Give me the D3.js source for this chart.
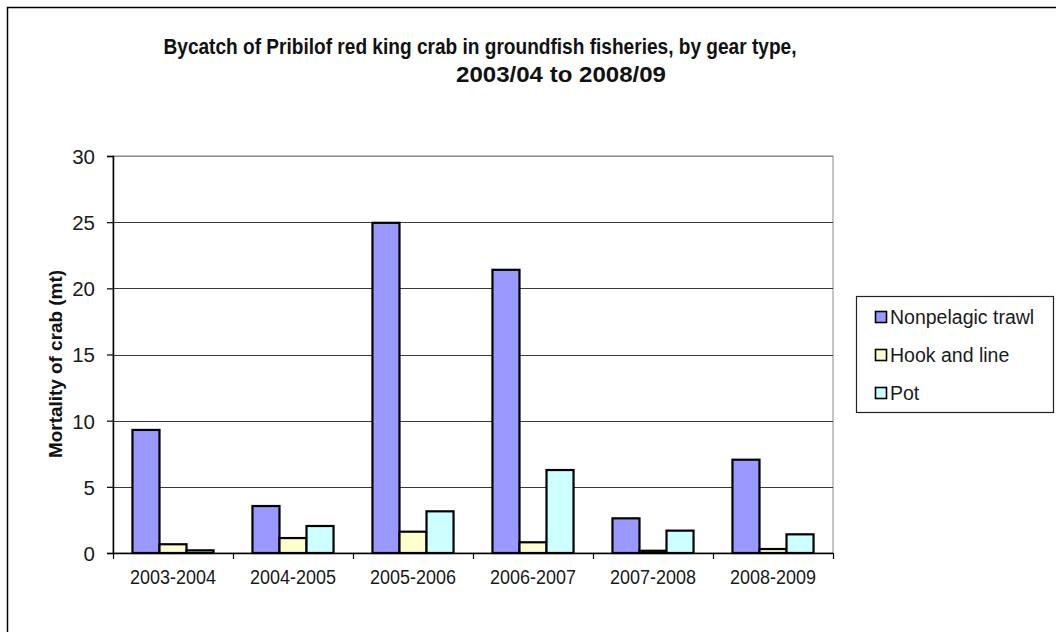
<!DOCTYPE html>
<html>
<head>
<meta charset="utf-8">
<script src="https://cdn.jsdelivr.net/npm/d3@7"></script>
<style>
  html, body { margin: 0; padding: 0; background: #fff; }
  svg { display: block; font-family: "Liberation Sans", Arial, sans-serif; }
</style>
</head>
<body>
<svg id="chart" width="1056" height="632"></svg>
<script>
const categories = ["2003-2004", "2004-2005", "2005-2006", "2006-2007", "2007-2008", "2008-2009"];
const seriesNames = ["Nonpelagic trawl", "Hook and line", "Pot"];
const trawl = [9.3, 3.55, 24.95, 21.4, 2.62, 7.05];
const hookLine = [0.66, 1.13, 1.61, 0.81, 0.17, 0.3];
const pot = [0.2, 2.04, 3.15, 6.27, 1.69, 1.41];
const yTicks = [0, 5, 10, 15, 20, 25, 30];
const colors = ["#9999FF", "#FFFFCC", "#CCFFFF"];
const titleLines = ["Bycatch of Pribilof red king crab in groundfish fisheries, by gear type,", "2003/04 to 2008/09"];
const yLabel = "Mortality of crab (mt)";

const seriesValues = [trawl, hookLine, pot];
const svg = d3.select("#chart");

// outer chart border
svg.append("rect").attr("x", 7.5).attr("y", 7.5).attr("width", 1100).attr("height", 700)
  .attr("fill", "#fff").attr("stroke", "#000").attr("stroke-width", 1.5);

const pLeft = 113, pRight = 833, pTop = 156, pBottom = 553;
const x = d3.scaleBand().domain(categories).range([pLeft, pRight]).padding(0);
const xi = d3.scaleBand().domain(seriesNames).range([0, x.bandwidth()]).paddingInner(0).paddingOuter(0.72);
const y = d3.scaleLinear().domain([0, 30]).range([pBottom, pTop]);

// plot area border (gray)
svg.append("rect").attr("x", pLeft).attr("y", pTop).attr("width", pRight - pLeft).attr("height", pBottom - pTop)
  .attr("fill", "none").attr("stroke", "#888").attr("stroke-width", 1);

// gridlines
svg.append("g").selectAll("line").data(yTicks.filter(d => d > 0)).join("line")
  .attr("x1", pLeft).attr("x2", pRight)
  .attr("y1", d => Math.round(y(d)) + 0.5).attr("y2", d => Math.round(y(d)) + 0.5)
  .attr("stroke", d => d === 30 ? "#888" : "#3a3a3a").attr("stroke-width", 1.2);

// bars
const rows = [];
categories.forEach((c, i) => seriesNames.forEach((s, j) => rows.push({c, s, j, v: seriesValues[j][i]})));
svg.append("g").selectAll("rect").data(rows).join("rect")
  .attr("x", d => x(d.c) + xi(d.s))
  .attr("y", d => y(d.v))
  .attr("width", xi.bandwidth())
  .attr("height", d => pBottom - y(d.v))
  .attr("fill", d => colors[d.j])
  .attr("stroke", "#000").attr("stroke-width", 2.2);

// y axis
const yAxis = svg.append("g").attr("transform", `translate(${pLeft},0)`)
  .call(d3.axisLeft(y).tickValues(yTicks).tickSize(6).tickPadding(12).tickFormat(d3.format("d")));
yAxis.select(".domain").attr("stroke", "#000").attr("stroke-width", 1.5);
yAxis.selectAll(".tick line").attr("stroke", "#000").attr("stroke-width", 1.2);
yAxis.selectAll("text").attr("font-size", 20.5).attr("fill", "#1a1a1a")
  .attr("font-family", "Liberation Sans, Arial, sans-serif").attr("dy", "0.36em");

// x axis
const xAxis = svg.append("g").attr("transform", `translate(0,${pBottom})`)
  .call(d3.axisBottom(x).tickSize(0).tickPadding(17));
xAxis.select(".domain").attr("stroke", "#000").attr("stroke-width", 1.5);
xAxis.selectAll("text").attr("font-size", 19.5).attr("fill", "#1a1a1a")
  .attr("font-family", "Liberation Sans, Arial, sans-serif")
  .attr("textLength", 86).attr("lengthAdjust", "spacingAndGlyphs");
// category boundary ticks
const bounds = categories.map(c => x(c)).concat([pRight]);
svg.append("g").selectAll("line").data(bounds).join("line")
  .attr("x1", d => Math.round(d) + 0.5).attr("x2", d => Math.round(d) + 0.5)
  .attr("y1", pBottom).attr("y2", pBottom + 6)
  .attr("stroke", "#000").attr("stroke-width", 1.2);

// title
svg.append("text").attr("x", 480).attr("y", 54).attr("text-anchor", "middle")
  .attr("font-size", 22).attr("font-weight", "bold").attr("fill", "#111")
  .attr("textLength", 633).attr("lengthAdjust", "spacingAndGlyphs")
  .text(titleLines[0]);
svg.append("text").attr("x", 561).attr("y", 82).attr("text-anchor", "middle")
  .attr("font-size", 22).attr("font-weight", "bold").attr("fill", "#111")
  .attr("textLength", 210).attr("lengthAdjust", "spacingAndGlyphs")
  .text(titleLines[1]);

// y label
svg.append("text").attr("transform", `translate(62,364) rotate(-90)`)
  .attr("text-anchor", "middle").attr("font-size", 19).attr("font-weight", "bold").attr("fill", "#111")
  .attr("textLength", 188).attr("lengthAdjust", "spacingAndGlyphs")
  .text(yLabel);

// legend
const lg = svg.append("g");
lg.append("rect").attr("x", 856.5).attr("y", 296.5).attr("width", 197).attr("height", 116)
  .attr("fill", "#fff").attr("stroke", "#222").attr("stroke-width", 1.2);
const ly = d3.scalePoint().domain(seriesNames).range([317, 393]);
const items = lg.selectAll("g").data(seriesNames).join("g")
  .attr("transform", d => `translate(875.5,${ly(d)})`);
items.append("rect").attr("x", 0).attr("y", -5.5).attr("width", 11).attr("height", 11)
  .attr("fill", (d, i) => colors[i]).attr("stroke", "#000").attr("stroke-width", 1.6);
items.append("text").attr("x", 14.5).attr("y", 0).attr("dy", "0.36em")
  .attr("font-size", 19.5).attr("fill", "#1a1a1a").text(d => d);
</script>
</body>
</html>
